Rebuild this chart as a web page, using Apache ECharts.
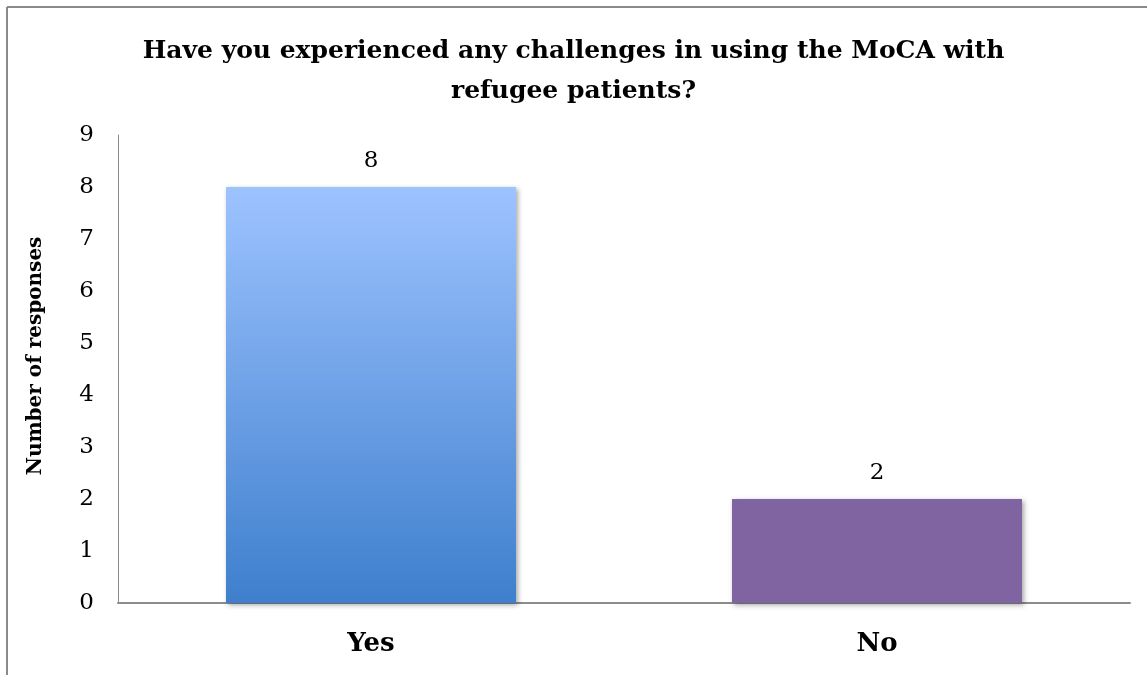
<!DOCTYPE html>
<html>
<head>
<meta charset="utf-8">
<script src="https://cdn.jsdelivr.net/npm/echarts@6/dist/echarts.min.js"></script>
<style>
html,body{margin:0;padding:0;background:#fff;}
#c{width:1147px;height:675px;}
</style>
</head>
<body>
<div id="c"></div>
<script>
const titleText = "Have you experienced any challenges in using the MoCA with\nrefugee patients?";
const categories = ["Yes", "No"];
const responses = [8, 2];
const yAxisName = "Number of responses";
const yMin = 0, yMax = 9, yInterval = 1;

const serif = "DejaVu Serif";
const chart = echarts.init(document.getElementById('c'), null, {renderer: 'canvas'});

const barColors = [
  new echarts.graphic.LinearGradient(0, 0, 0, 1, [
    {offset: 0, color: '#9DC3FF'},
    {offset: 1, color: '#3E7FCD'}
  ]),
  '#8064A2'
];

chart.setOption({
  backgroundColor: '#fff',
  animation: false,
  title: {
    text: titleText,
    left: 'center',
    top: 26,
    textStyle: {
      fontFamily: serif,
      fontWeight: 'bold',
      fontSize: 25,
      lineHeight: 40,
      color: '#000'
    }
  },
  graphic: [
    {type: 'line', shape: {x1: 7, y1: 7, x2: 1147, y2: 7}, style: {stroke: '#8a8a8a', lineWidth: 2}, silent: true},
    {type: 'line', shape: {x1: 7, y1: 7, x2: 7, y2: 675}, style: {stroke: '#8a8a8a', lineWidth: 2}, silent: true}
  ],
  grid: {left: 118, right: 17, top: 135, bottom: 72, containLabel: false},
  xAxis: {
    type: 'category',
    data: categories,
    axisLine: {lineStyle: {color: '#8c8c8c', width: 2}},
    axisTick: {show: false},
    axisLabel: {
      margin: 28,
      fontFamily: serif,
      fontWeight: 'bold',
      fontSize: 26,
      color: '#000'
    }
  },
  yAxis: {
    type: 'value',
    min: yMin,
    max: yMax,
    interval: yInterval,
    name: yAxisName,
    nameLocation: 'middle',
    nameGap: 72,
    nameTextStyle: {
      fontFamily: serif,
      fontWeight: 'bold',
      fontSize: 20,
      color: '#000',
      padding: [0, 0, 0, 26]
    },
    axisLine: {show: true, lineStyle: {color: '#8c8c8c', width: 1}},
    axisTick: {show: false},
    splitLine: {show: false},
    axisLabel: {
      margin: 24,
      fontFamily: serif,
      fontSize: 23,
      color: '#000'
    }
  },
  series: [{
    type: 'bar',
    data: responses.map((v, i) => ({
      value: v,
      itemStyle: {
        color: barColors[i],
        shadowColor: 'rgba(0,0,0,0.35)',
        shadowBlur: 5,
        shadowOffsetX: 2,
        shadowOffsetY: 2
      }
    })),
    barWidth: 290,
    label: {
      show: true,
      position: 'top',
      distance: 14,
      fontFamily: serif,
      fontSize: 23,
      color: '#000'
    }
  }]
});
</script>
</body>
</html>
